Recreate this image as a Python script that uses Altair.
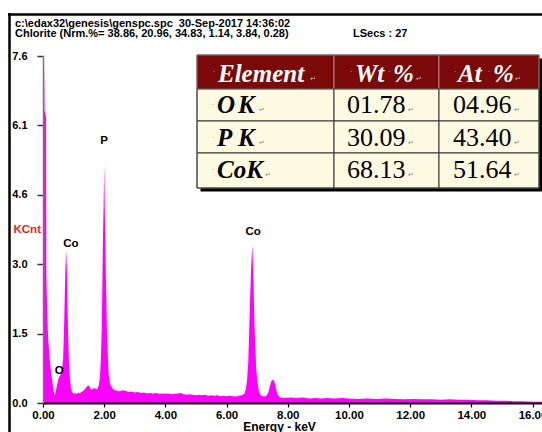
import altair as alt
import pandas as pd

# ---- EDS spectrum (energy in keV, counts in KCnt) ----
energy = [
    0.00, 0.015, 0.03, 0.05, 0.06, 0.075, 0.10, 0.11, 0.14, 0.17, 0.21, 0.25,
    0.29, 0.33, 0.36, 0.39, 0.42, 0.46, 0.50, 0.54, 0.58, 0.62, 0.66, 0.69,
    0.71, 0.73, 0.75, 0.76, 0.78, 0.80, 0.83, 0.85, 0.88, 0.91, 0.95, 1.00,
    1.05, 1.10, 1.15, 1.20, 1.25, 1.30, 1.35, 1.40, 1.45, 1.49, 1.53, 1.58,
    1.63, 1.68, 1.73, 1.78, 1.82, 1.86, 1.89, 1.92, 1.94, 1.96, 1.98, 2.00,
    2.02, 2.04, 2.06, 2.09, 2.12, 2.15, 2.19, 2.24, 2.30, 2.40, 2.50, 2.60,
    2.70, 2.80, 2.90, 3.00, 3.10, 3.20, 3.30, 3.40, 3.50, 3.60, 3.70, 3.80,
    3.90, 4.00, 4.10, 4.20, 4.30, 4.40, 4.50, 4.60, 4.70, 4.80, 4.90, 5.00,
    5.10, 5.20, 5.30, 5.40, 5.50, 5.60, 5.70, 5.80, 5.90, 6.00, 6.10, 6.20,
    6.30, 6.40, 6.50, 6.58, 6.63, 6.67, 6.71, 6.74, 6.77, 6.80, 6.82, 6.84,
    6.86, 6.88, 6.91, 6.94, 6.97, 7.01, 7.06, 7.12, 7.18, 7.24, 7.30, 7.36,
    7.41, 7.46, 7.52, 7.57, 7.62, 7.67, 7.75, 7.90, 8.10, 8.30, 8.50, 8.70,
    8.90, 9.10, 9.30, 9.50, 9.80, 10.00, 10.30, 10.60, 10.90, 11.20, 11.50,
    11.80, 12.10, 12.40, 12.70, 13.00, 13.30, 13.60, 13.90, 14.20, 14.50,
    14.80, 15.10, 15.40, 15.70, 16.00, 16.31,
]
kcnt = [
    0.00, 6.30, 6.38, 6.40, 7.45, 6.38, 6.25, 2.80, 1.90, 1.40, 1.02, 0.76,
    0.55, 0.34, 0.22, 0.17, 0.26, 0.40, 0.52, 0.58, 0.63, 0.70, 1.00, 1.70,
    2.30, 2.90, 3.20, 3.35, 2.90, 2.10, 1.30, 0.87, 0.55, 0.34, 0.24, 0.20,
    0.22, 0.19, 0.23, 0.21, 0.24, 0.26, 0.29, 0.33, 0.37, 0.39, 0.34, 0.29,
    0.31, 0.33, 0.30, 0.31, 0.38, 0.55, 0.95, 1.60, 2.60, 3.60, 4.30, 5.20,
    4.20, 3.40, 2.60, 1.60, 1.00, 0.60, 0.42, 0.35, 0.30, 0.27, 0.26, 0.28,
    0.27, 0.24, 0.25, 0.23, 0.24, 0.22, 0.23, 0.21, 0.22, 0.21, 0.22, 0.20,
    0.21, 0.20, 0.21, 0.19, 0.20, 0.21, 0.22, 0.19, 0.18, 0.19, 0.18, 0.17,
    0.18, 0.17, 0.18, 0.16, 0.17, 0.16, 0.17, 0.15, 0.16, 0.15, 0.16, 0.15,
    0.14, 0.16, 0.17, 0.20, 0.30, 0.50, 0.90, 1.60, 2.30, 2.90, 3.20, 3.46,
    3.10, 2.60, 1.80, 1.20, 0.75, 0.45, 0.25, 0.17, 0.15, 0.14, 0.16, 0.22,
    0.35, 0.47, 0.52, 0.45, 0.30, 0.18, 0.12, 0.11, 0.12, 0.11, 0.12, 0.10,
    0.11, 0.10, 0.11, 0.10, 0.11, 0.10, 0.09, 0.10, 0.09, 0.10, 0.09,
    0.08, 0.09, 0.08, 0.08, 0.07, 0.08, 0.07, 0.07, 0.06, 0.06,
    0.05, 0.05, 0.04, 0.04, 0.03, 0.03,
]

# ---- peak identifications ----
peak_names = ["O", "Co", "P", "Co"]
peak_energy = [0.53, 0.91, 2.00, 6.87]
peak_label_y = [0.70, 3.48, 5.74, 3.75]

# ---- quantification table ----
table_header = ["Element", "Wt %", "At %"]
elements = ["O K", "P K", "CoK"]
wt_pct = ["01.78", "30.09", "68.13"]
at_pct = ["04.96", "43.40", "51.64"]

# ---- acquisition info ----
info_line1 = "c:\\edax32\\genesis\\genspc.spc\u00a0 30-Sep-2017 14:36:02"
info_line2 = "Chlorite (Nrm.%= 38.86, 20.96, 34.83, 1.14, 3.84, 0.28)"
lsecs_text = "LSecs : 27"

x_ticks = [0, 2, 4, 6, 8, 10, 12, 14, 16]
y_ticks = [0, 1.52, 3.04, 4.56, 6.08, 7.6]

# ---- layout ----
W, H = 542, 432
OX, OY = 43, 56            # plot origin on the page
PW, PH = W - OX, 347       # plot area
X_MAX = 16.31
Y_MAX = 7.6

SANS = "Liberation Sans"
SERIF = "Liberation Serif"
MAGENTA = "#ff00ff"

spec = pd.DataFrame({"energy": energy, "kcnt": kcnt})
peaks = pd.DataFrame({"name": peak_names, "e": peak_energy, "y": peak_label_y})

xs = alt.Scale(domain=[0, X_MAX], nice=False, zero=False)
ys = alt.Scale(domain=[0, Y_MAX], nice=False)

area = alt.Chart(spec).mark_area(color=MAGENTA, interpolate="linear").encode(
    x=alt.X(
        "energy:Q", scale=xs,
        axis=alt.Axis(
            values=x_ticks, format=".2f", title="Energy - keV",
            domainColor="#000", domainWidth=2, tickColor="#000", tickSize=4,
            tickWidth=1.2, labelFont=SANS, labelFontWeight="bold",
            labelFontSize=11.5, labelColor="#000", labelPadding=2,
            labelBound=False, labelFlush=False, labelOverlap=False,
            titleFont=SANS, titleFontWeight="bold", titleFontSize=12,
            titleColor="#000", titleX=236, titleY=27,
            titleBaseline="alphabetic", titleAlign="center", grid=False,
            zindex=1,
        ),
    ),
    y=alt.Y(
        "kcnt:Q", scale=ys,
        axis=alt.Axis(
            values=y_ticks, format=".1f", title="KCnt",
            domainColor="#777", domainWidth=1.5, tickColor="#333",
            tickSize=6, tickWidth=1.5, labelFont=SANS,
            labelFontWeight="bold", labelFontSize=11, labelColor="#000",
            labelPadding=10, labelOverlap=False,
            titleFont=SANS, titleFontWeight="bold", titleFontSize=11.5,
            titleColor="#ee1c25", titleAngle=0, titleAlign="left",
            titleBaseline="middle", titleX=-30, titleY=173, grid=False,
            zindex=1,
        ),
    ),
)

peak_text = alt.Chart(peaks).mark_text(
    font=SANS, fontWeight="bold", fontSize=11.5, color="#000",
    align="center", baseline="middle",
).encode(
    x=alt.X("e:Q", scale=xs), y=alt.Y("y:Q", scale=ys), text="name:N"
)

# ---- page frame (top and left rules) ----
frame = pd.DataFrame({
    "x": [8 - OX, 9.5 - OX], "x2": [W - OX, 9.5 - OX],
    "y": [14.5 - OY, 13 - OY], "y2": [14.5 - OY, H - OY],
})
frame_rules = alt.Chart(frame).mark_rule(color="#000", strokeWidth=2.5).encode(
    x=alt.X("x:Q", scale=None), x2="x2:Q",
    y=alt.Y("y:Q", scale=None), y2="y2:Q",
)

# ---- acquisition header text ----
info = pd.DataFrame({
    "x": [15 - OX, 15 - OX, 353 - OX],
    "y": [26.5 - OY, 37 - OY, 37 - OY],
    "t": [info_line1, info_line2, lsecs_text],
})
info_text = alt.Chart(info).mark_text(
    font=SANS, fontWeight="bold", fontSize=11, color="#000",
    align="left", baseline="alphabetic",
).encode(x=alt.X("x:Q", scale=None), y=alt.Y("y:Q", scale=None), text="t:N")

# ---- table geometry ----
col_edges = [197, 334, 439, 539]
row_edges = [55, 89, 121, 153, 188]
HEAD_FILL = "#7a0a0a"
CELL_FILL = "#fffbe2"
SHADOW = 3.5

cells = []
for r in range(4):
    for c in range(3):
        cells.append({
            "x": col_edges[c] - OX, "x2": col_edges[c + 1] - OX,
            "y": row_edges[r] - OY, "y2": row_edges[r + 1] - OY,
            "fill": HEAD_FILL if r == 0 else CELL_FILL,
            "stroke": "#b08080" if r == 0 else "#333",
        })
cells = pd.DataFrame(cells)

shadow = pd.DataFrame({
    "x": [col_edges[0] + SHADOW - OX], "x2": [col_edges[-1] + SHADOW - OX],
    "y": [row_edges[0] + SHADOW - OY], "y2": [row_edges[-1] + SHADOW - OY],
})
shadow_rect = alt.Chart(shadow).mark_rect(color="#000").encode(
    x=alt.X("x:Q", scale=None), x2="x2:Q",
    y=alt.Y("y:Q", scale=None), y2="y2:Q",
)
cell_rects = alt.Chart(cells).mark_rect(strokeWidth=1).encode(
    x=alt.X("x:Q", scale=None), x2="x2:Q",
    y=alt.Y("y:Q", scale=None), y2="y2:Q",
    fill=alt.Fill("fill:N", scale=None),
    stroke=alt.Stroke("stroke:N", scale=None),
)
outline = pd.DataFrame({
    "x": [col_edges[0] - OX], "x2": [col_edges[-1] - OX],
    "y": [row_edges[0] - OY], "y2": [row_edges[-1] - OY],
})
outline_rect = alt.Chart(outline).mark_rect(
    fill=None, stroke="#555", strokeWidth=1
).encode(
    x=alt.X("x:Q", scale=None), x2="x2:Q",
    y=alt.Y("y:Q", scale=None), y2="y2:Q",
)

# ---- table text: words are split at spaces so a space dot sits between ----
head_base = 82
row_base = [113, 146, 178]
wt_left, at_left = 347, 453

head_parts = [table_header[0]] + table_header[1].split(" ") + table_header[2].split(" ")
head_df = pd.DataFrame({
    "x": [v - OX for v in [218, 355, 393, 458, 493]],
    "y": [head_base - OY] * 5,
    "t": head_parts,
})
head_text = alt.Chart(head_df).mark_text(
    font=SERIF, fontWeight="bold", fontStyle="italic", fontSize=25,
    color="#ffffff", align="left", baseline="alphabetic",
).encode(x=alt.X("x:Q", scale=None), y=alt.Y("y:Q", scale=None), text="t:N")

lab_x, lab_y, lab_t = [], [], []
for name, b in zip(elements, row_base):
    parts = name.split(" ")
    for i, p in enumerate(parts):
        lab_x.append((217 if i == 0 else 238) - OX)
        lab_y.append(b - OY)
        lab_t.append(p)
lab_df = pd.DataFrame({"x": lab_x, "y": lab_y, "t": lab_t})
lab_text = alt.Chart(lab_df).mark_text(
    font=SERIF, fontWeight="bold", fontStyle="italic", fontSize=25,
    color="#000", align="left", baseline="alphabetic",
).encode(x=alt.X("x:Q", scale=None), y=alt.Y("y:Q", scale=None), text="t:N")

val_df = pd.DataFrame({
    "x": [wt_left - OX] * 3 + [at_left - OX] * 3,
    "y": [b - OY for b in row_base] * 2,
    "t": wt_pct + at_pct,
})
val_text = alt.Chart(val_df).mark_text(
    font=SERIF, fontSize=26, color="#000", align="left", baseline="alphabetic",
).encode(x=alt.X("x:Q", scale=None), y=alt.Y("y:Q", scale=None), text="t:N")

# word-processor formatting marks (space dots and paragraph returns)
mark_x = [214, 351, 389, 455, 489, 313, 419, 518]
mark_y = [72, 72, 72, 72, 72, 79, 79, 79]
mark_c = ["\u00b7"] * 5 + ["\u21b5"] * 3
mark_col = ["#d8b0b0"] * 8
for b in row_base:
    mark_x += [213, 411, 517]
    mark_y += [b - 8, b - 3, b - 3]
    mark_c += ["\u00b7", "\u21b5", "\u21b5"]
    mark_col += ["#888"] * 3
for b in row_base[:2]:
    mark_x += [235, 262]
    mark_y += [b - 8, b - 3]
    mark_c += ["\u00b7", "\u21b5"]
    mark_col += ["#888"] * 2
mark_x += [268]
mark_y += [row_base[2] - 3]
mark_c += ["\u21b5"]
mark_col += ["#888"]

marks_df = pd.DataFrame({
    "x": [v - OX for v in mark_x], "y": [v - OY for v in mark_y],
    "t": mark_c, "col": mark_col,
})
marks_text = alt.Chart(marks_df).mark_text(
    font="DejaVu Sans", fontSize=7, align="center", baseline="middle",
).encode(
    x=alt.X("x:Q", scale=None), y=alt.Y("y:Q", scale=None), text="t:N",
    color=alt.Color("col:N", scale=None),
)

chart = alt.layer(
    area, peak_text, frame_rules, info_text,
    shadow_rect, cell_rects, outline_rect,
    head_text, lab_text, val_text, marks_text,
).properties(
    width=PW, height=PH,
    padding={"left": OX, "top": OY, "right": 0, "bottom": H - OY - PH},
    autosize=alt.AutoSizeParams(type="none"),
    background="#ffffff",
).configure_view(stroke=None)

chart.save("out.html", embed_options={"renderer": "svg", "actions": False})
